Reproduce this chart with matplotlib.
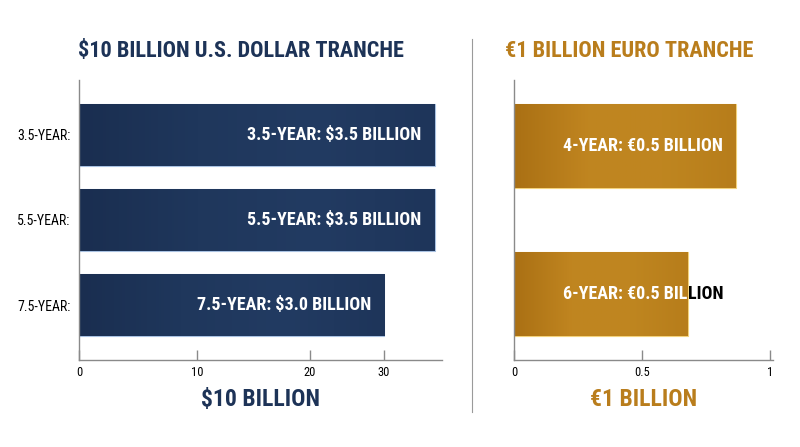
import matplotlib
matplotlib.use('Agg')
import numpy as np
import matplotlib.pyplot as plt
from matplotlib import font_manager as fm
from matplotlib.lines import Line2D
from matplotlib.colors import LinearSegmentedColormap

# data (bars are mid-animation, so lengths != labels)
usd_terms = ['3.5-YEAR:', '5.5-YEAR:', '7.5-YEAR:']
usd_values = [35, 35, 30]
usd_labels = ['3.5-YEAR: $3.5 BILLION', '5.5-YEAR: $3.5 BILLION', '7.5-YEAR: $3.0 BILLION']
usd_tick_pos = [0, 11.6, 22.7, 30]
usd_tick_labels = ['0', '10', '20', '30']

eur_terms = ['4-YEAR', '6-YEAR']
eur_values = [0.867, 0.678]
eur_labels = ['4-YEAR: €0.5 BILLION', '6-YEAR: €0.5 BILLION']
eur_ticks = [0, 0.5, 1]
eur_tick_labels = ['0', '0.5', '1']

NAVY = '#1d3357'
GOLD = '#b97d1c'
navy_cmap = LinearSegmentedColormap.from_list('navy', ['#1a2e50', '#1f375c', '#223b62', '#1e355a'])
gold_cmap = LinearSegmentedColormap.from_list('gold', ['#aa7014', '#c08520', '#bf8620', '#b77d1b'])

names = {f.name for f in fm.fontManager.ttflist}
FONT = 'DejaVu Sans'
for cand in ['Roboto Condensed', 'Liberation Sans Narrow', 'DejaVu Sans']:
    if cand in names:
        FONT = cand
        break
plt.rcParams['font.family'] = [FONT, 'DejaVu Sans']
plt.rcParams['font.stretch'] = 'condensed'

fig = plt.figure(figsize=(8, 4.47), dpi=100)
W, H = 800, 447

def px_axes(x0, y0, x1, y1):
    return fig.add_axes([x0 / W, 1 - y1 / H, (x1 - x0) / W, (y1 - y0) / H])

def style_axis(ax):
    for s in ['top', 'right']:
        ax.spines[s].set_visible(False)
    for s in ['left', 'bottom']:
        ax.spines[s].set_color('#8a8a8a')
        ax.spines[s].set_linewidth(1.0)
    ax.tick_params(axis='x', direction='in', length=7, width=1, color='#8a8a8a',
                   labelsize=9, pad=4, labelcolor='black')
    ax.tick_params(axis='y', length=0, labelsize=10, pad=6, labelcolor='black')

def shade_bars(ax, bars, cmap):
    grad = np.linspace(0, 1, 256).reshape(1, -1)
    for b in bars:
        x0, y0 = b.get_x(), b.get_y()
        im = ax.imshow(grad, cmap=cmap, aspect='auto', zorder=1.5,
                       extent=[x0, x0 + b.get_width(), y0 + b.get_height(), y0])
        im.set_clip_path(b)

def label_bar(ax, x, y, text, split, size):
    # part inside the bar in white, overflow part in black
    t = ax.text(x, y, text[:split], ha='right', va='center', color='white',
                fontsize=size, fontweight='bold', zorder=3)
    if split < len(text):
        ax.annotate(text[split:], xy=(1, 0.5), xycoords=t, ha='left', va='center',
                    color='black', fontsize=size, fontweight='bold', zorder=3)

# ---- USD panel
ax1 = px_axes(79, 80, 442, 360)
ypos = list(range(len(usd_terms)))
bars = ax1.barh(ypos, usd_values, height=0.73, color=NAVY, edgecolor='#a9c2e2',
                linewidth=0.8)
shade_bars(ax1, bars, navy_cmap)
ax1.set_ylim(len(usd_terms) - 1 + 0.647, -0.647)
ax1.set_xlim(0, 35.7)
ax1.set_yticks(ypos)
ax1.set_yticklabels(usd_terms)
ax1.set_xticks(usd_tick_pos)
ax1.set_xticklabels(usd_tick_labels)
style_axis(ax1)
for v, lab, y in zip(usd_values, usd_labels, ypos):
    label_bar(ax1, v - 1.3, y, lab, len(lab), 13)
ax1.set_xlabel('$10 BILLION', color=NAVY, fontsize=17, fontweight='bold', labelpad=7)

# ---- EUR panel
ax2 = px_axes(514, 80, 773, 360)
ypos2 = list(range(len(eur_terms)))
bars2 = ax2.barh(ypos2, eur_values, height=0.566, color=GOLD, edgecolor='#f3d27c',
                 linewidth=0.8)
shade_bars(ax2, bars2, gold_cmap)
ax2.set_ylim(len(eur_terms) - 1 + 0.443, -0.443)
ax2.set_xlim(0, 1.012)
ax2.set_yticks([])
ax2.set_xticks(eur_ticks)
ax2.set_xticklabels(eur_tick_labels)
style_axis(ax2)
# 4-year label sits inside its bar, 6-year label runs past the end of its bar
label_bar(ax2, eur_values[0] - 0.05, ypos2[0], eur_labels[0], len(eur_labels[0]), 13)
label_bar(ax2, eur_values[1], ypos2[1], eur_labels[1], 16, 13)
ax2.set_xlabel('€1 BILLION', color=GOLD, fontsize=17, fontweight='bold', labelpad=7)

# titles and divider
fig.text(78 / W, 1 - 51 / H, '$10 BILLION U.S. DOLLAR TRANCHE', color=NAVY,
         fontsize=16, fontweight='bold', ha='left', va='center')
fig.text(505 / W, 1 - 51 / H, '€1 BILLION EURO TRANCHE', color=GOLD,
         fontsize=16, fontweight='bold', ha='left', va='center')
fig.add_artist(Line2D([472 / W, 472 / W], [1 - 39 / H, 1 - 412 / H],
                      color='#9a9a9a', linewidth=0.8))

fig.savefig('out.png', dpi=100, facecolor='white')
